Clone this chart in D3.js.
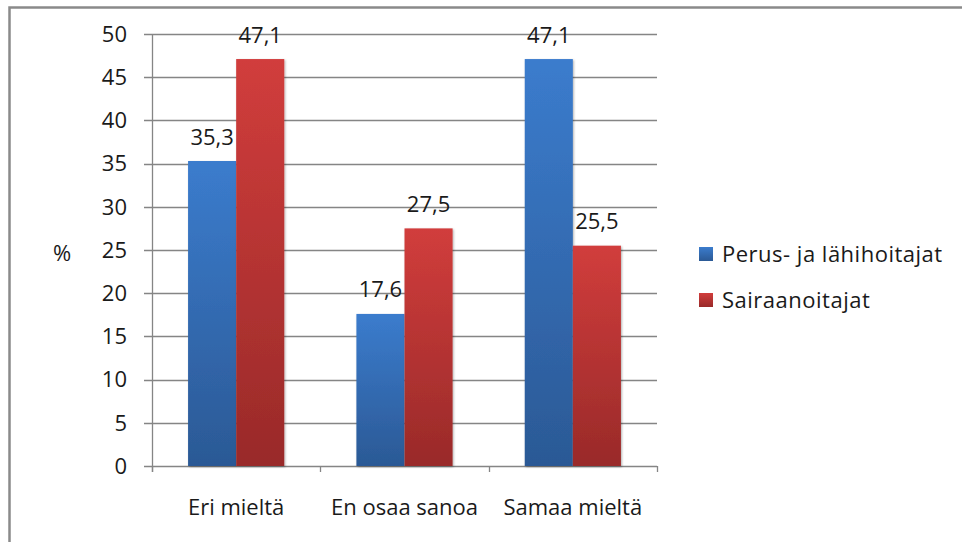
<!DOCTYPE html>
<html>
<head>
<meta charset="utf-8">
<script src="https://cdn.jsdelivr.net/npm/d3@7"></script>
<style>
  html, body { margin: 0; padding: 0; background: #fff; }
  svg { display: block; }
  text { font-family: "Open Sans", "Noto Sans", sans-serif; fill: #1a1a1a; }
</style>
</head>
<body>
<svg id="chart" width="962" height="542"></svg>
<script>
// Vastausjakauma ammattiryhmittäin (%)
const categories = ["Eri mieltä", "En osaa sanoa", "Samaa mieltä"];
const seriesNames = ["Perus- ja lähihoitajat", "Sairaanoitajat"];
const perusValues = [35.3, 17.6, 47.1];
const sairaanValues = [47.1, 27.5, 25.5];
const yTicks = [0, 5, 10, 15, 20, 25, 30, 35, 40, 45, 50];

const seriesValues = [perusValues, sairaanValues];
const rows = categories.map((c, i) => ({
  category: c,
  values: seriesNames.map((s, j) => ({ series: j, value: seriesValues[j][i] }))
}));

const svg = d3.select("#chart");
const plot = { left: 152, right: 657, top: 34, bottom: 466 };
const fontSize = 22;

// Kehys
svg.append("rect")
  .attr("x", 9.5).attr("y", 7.5)
  .attr("width", 980).attr("height", 560)
  .attr("fill", "none").attr("stroke", "#8a8a8a").attr("stroke-width", 2.5);

const defs = svg.append("defs");
const grads = [
  { id: "gBlue", top: "#3b7ccd", bottom: "#2b5995" },
  { id: "gRed", top: "#d13d3c", bottom: "#992a29" }
];
grads.forEach(g => {
  const lg = defs.append("linearGradient").attr("id", g.id)
    .attr("x1", 0).attr("y1", 0).attr("x2", 0).attr("y2", 1);
  lg.append("stop").attr("offset", "0%").attr("stop-color", g.top);
  lg.append("stop").attr("offset", "100%").attr("stop-color", g.bottom);
});
const sh = defs.append("filter").attr("id", "shadow")
  .attr("x", "-20%").attr("y", "-5%").attr("width", "140%").attr("height", "115%");
sh.append("feDropShadow").attr("dx", 1).attr("dy", 1).attr("stdDeviation", 1.2)
  .attr("flood-color", "#000").attr("flood-opacity", 0.3);

const x0 = d3.scaleBand().domain(categories).range([plot.left, plot.right])
  .paddingInner(0).paddingOuter(0);
// Palkkien väli 150 % palkin leveydestä
const barW = x0.bandwidth() / 3.5;
const x1 = d3.scaleBand().domain([0, 1])
  .range([x0.bandwidth() / 2 - barW, x0.bandwidth() / 2 + barW]);
const y = d3.scaleLinear().domain([0, 50]).range([plot.bottom, plot.top]);

// Vaakaviivoitus
svg.append("g").selectAll("line").data(yTicks).join("line")
  .attr("x1", plot.left - 8).attr("x2", plot.right)
  .attr("y1", d => Math.round(y(d)) + 0.5).attr("y2", d => Math.round(y(d)) + 0.5)
  .attr("stroke", "#858585").attr("stroke-width", 1.3);

// Y-akselin otsikot
svg.append("g").selectAll("text").data(yTicks).join("text")
  .attr("x", 127).attr("y", d => y(d))
  .attr("dy", "0.35em").attr("text-anchor", "end")
  .attr("font-size", fontSize).text(d => d);

// Y-akseli
svg.append("line")
  .attr("x1", plot.left + 0.5).attr("x2", plot.left + 0.5)
  .attr("y1", plot.top).attr("y2", plot.bottom + 6)
  .attr("stroke", "#858585").attr("stroke-width", 1.3);

// Kategoria-akselin jakoviivat
const catTicks = categories.map(c => x0(c)).concat([plot.right]);
svg.append("g").selectAll("line").data(catTicks).join("line")
  .attr("x1", d => Math.round(d) + 0.5).attr("x2", d => Math.round(d) + 0.5)
  .attr("y1", plot.bottom).attr("y2", plot.bottom + 6)
  .attr("stroke", "#858585").attr("stroke-width", 1.3);

// Palkit
const groups = svg.append("g").selectAll("g").data(rows).join("g")
  .attr("transform", d => `translate(${x0(d.category)},0)`);
groups.selectAll("rect").data(d => d.values).join("rect")
  .attr("x", d => x1(d.series)).attr("width", x1.bandwidth())
  .attr("y", d => y(d.value)).attr("height", d => y(0) - y(d.value))
  .attr("fill", d => `url(#${grads[d.series].id})`)
  .attr("filter", "url(#shadow)");

// Arvotunnisteet
groups.selectAll("text").data(d => d.values).join("text")
  .attr("x", d => x1(d.series) + x1.bandwidth() / 2)
  .attr("y", d => y(d.value) - 16.5)
  .attr("text-anchor", "middle").attr("font-size", fontSize)
  .text(d => d3.format(".1f")(d.value).replace(".", ","));

// Kategorioiden nimet
svg.append("g").selectAll("text").data(categories).join("text")
  .attr("x", d => x0(d) + x0.bandwidth() / 2).attr("y", 515)
  .attr("text-anchor", "middle").attr("font-size", fontSize).text(d => d);

// Y-akselin yksikkö
svg.append("text").attr("x", 62).attr("y", 253).attr("dy", "0.35em")
  .attr("text-anchor", "middle").attr("font-size", fontSize).text("%");

// Selite
const legend = svg.append("g").selectAll("g").data(seriesNames).join("g")
  .attr("transform", (d, i) => `translate(699,${254 + i * 46})`);
legend.append("rect").attr("x", 0).attr("y", -7).attr("width", 14).attr("height", 14)
  .attr("fill", (d, i) => `url(#${grads[i].id})`);
legend.append("text").attr("x", 23).attr("y", 0).attr("dy", "0.35em")
  .attr("font-size", fontSize).attr("letter-spacing", 0.5).text(d => d);
</script>
</body>
</html>
